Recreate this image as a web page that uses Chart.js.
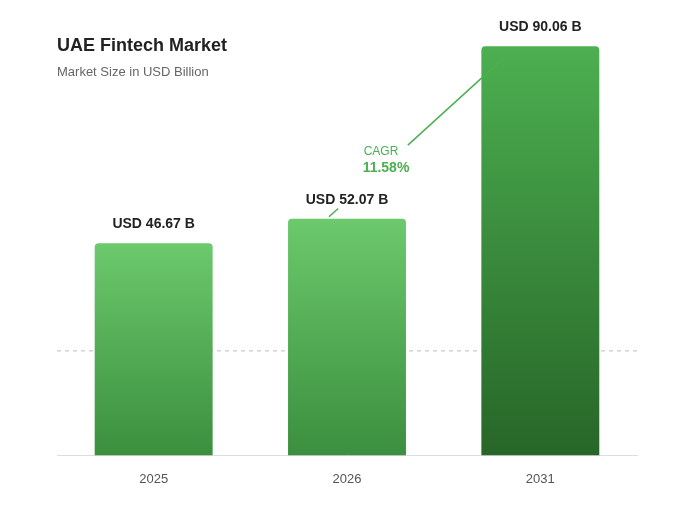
<!DOCTYPE html>
<html><head><meta charset="utf-8">
<script src="https://cdn.jsdelivr.net/npm/chart.js@4"></script>
<style>
body{margin:0;background:#fff;font-family:"Liberation Sans",Arial,sans-serif}
#wrap{position:relative;width:673px;height:526px}
#t{position:absolute;left:57px;top:35px;font-size:18px;font-weight:bold;color:#222}
#s{position:absolute;left:57px;top:64px;font-size:13px;color:#666}
canvas{position:absolute;left:0;top:0}
</style></head><body>
<div id="wrap"><canvas id="c" width="673" height="526"></canvas>
<div id="t">UAE Fintech Market</div><div id="s">Market Size in USD Billion</div></div>
<script>
// data
const years = ['2025','2026','2031'];
const sizes = [46.67, 52.07, 90.06];
const cagr = '11.58%';
const topCols = ['#6cc96c','#6cc96c','#4caf50'];
const botCols = ['#3b8f3e','#3b8f3e','#276628'];

const labelsPlugin = {
  id:'lbl',
  beforeDatasetsDraw(chart){
    const c=chart.ctx, gy=chart.scales.y.getPixelForValue(23);
    c.save();c.setLineDash([4,4]);c.strokeStyle='#bbb';c.lineWidth=1;
    c.beginPath();c.moveTo(chart.chartArea.left,gy);c.lineTo(chart.chartArea.right,gy);c.stroke();c.restore();
  },
  afterDatasetsDraw(chart){
    const c=chart.ctx, bars=chart.getDatasetMeta(0).data;
    c.save();c.font='bold 14px "Liberation Sans",Arial';c.fillStyle='#222';c.textAlign='center';
    bars.forEach((b,i)=>c.fillText('USD '+sizes[i].toFixed(2)+' B',b.x,b.y-15));
    // cagr line
    const a=bars[1], z=bars[2];
    const x0=a.x-18, y0=a.y-2, x1=z.x-28, y1=z.y+4;
    const p=t=>[x0+(x1-x0)*t,y0+(y1-y0)*t];
    c.strokeStyle='#4caf50';c.lineWidth=1.5;
    let [ax,ay]=p(0),[bx,by]=p(0.05);
    c.beginPath();c.moveTo(ax,ay);c.lineTo(bx,by);c.stroke();
    [ax,ay]=p(0.43);[bx,by]=p(1);
    c.beginPath();c.moveTo(ax,ay);c.lineTo(bx,by);c.stroke();
    const [tx,ty]=p(0.3);
    c.fillStyle='#4caf50';c.font='12px "Liberation Sans",Arial';
    c.fillText('CAGR',tx-3,ty-12);
    c.font='bold 14px "Liberation Sans",Arial';c.fillText(cagr,tx+2,ty+5);
    c.restore();
  }
};

new Chart(document.getElementById('c'),{
  type:'bar',
  data:{labels:years,datasets:[{data:sizes,
    backgroundColor(ctx){
      const el=ctx.element, ch=ctx.chart;
      if(!el||!ch.chartArea) return topCols[ctx.dataIndex];
      const y=ch.scales.y.getPixelForValue(sizes[ctx.dataIndex]);
      const g=ch.ctx.createLinearGradient(0,y,0,ch.scales.y.getPixelForValue(0));
      g.addColorStop(0,topCols[ctx.dataIndex]);g.addColorStop(1,botCols[ctx.dataIndex]);
      return g;
    },
    borderRadius:4,borderSkipped:'bottom',barPercentage:0.61,categoryPercentage:1}]},
  options:{responsive:false,animation:false,
    layout:{padding:{left:57,right:36,top:1,bottom:31}},
    plugins:{legend:{display:false},tooltip:{enabled:false}},
    scales:{
      x:{grid:{display:false},border:{color:'#ddd'},ticks:{color:'#555',font:{size:13,family:'"Liberation Sans",Arial'},padding:8}},
      y:{display:false,min:0,max:100}
    }},
  plugins:[labelsPlugin]
});
</script></body></html>
